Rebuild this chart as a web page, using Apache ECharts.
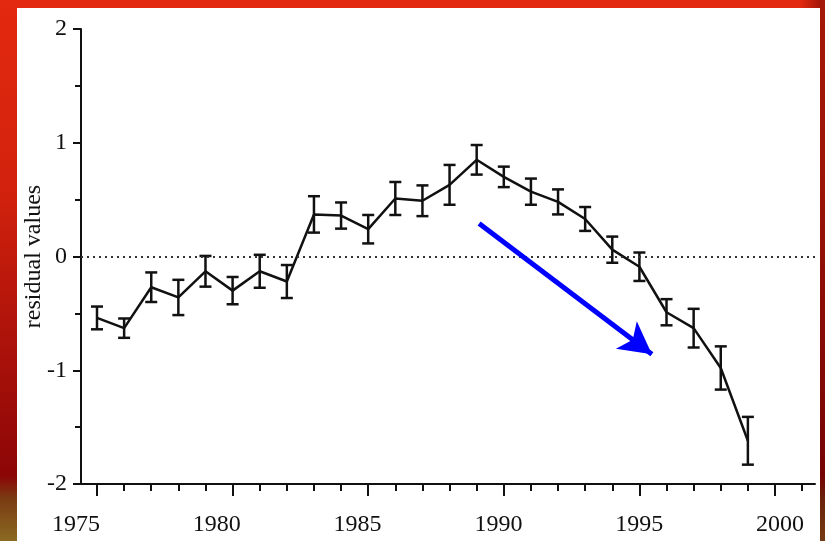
<!DOCTYPE html>
<html>
<head>
<meta charset="utf-8">
<script src="https://cdn.jsdelivr.net/npm/echarts@6/dist/echarts.min.js"></script>
<style>
  html, body { margin: 0; padding: 0; width: 825px; height: 541px; overflow: hidden; }
  body {
    background:
      linear-gradient(to right, rgba(90,0,0,0) 97%, rgba(90,0,0,0.45) 99.4%, rgba(90,0,0,0.45) 100%),
      linear-gradient(to bottom, #e3290f 0%, #d2220d 35%, #b0140a 60%, #8c0606 88%, #7a3a12 92%, #8a6a22 100%);
  }
  #paper { position: absolute; left: 17px; top: 8px; width: 803px; height: 533px; background: #ffffff; }
  #chart { position: absolute; left: 0; top: 0; width: 825px; height: 541px; }
</style>
</head>
<body>
<div id="paper"></div>
<div id="chart"></div>
<script>
// ---- data ----
const years = [1975, 1976, 1977, 1978, 1979, 1980, 1981, 1982, 1983, 1984, 1985, 1986, 1987,
               1988, 1989, 1990, 1991, 1992, 1993, 1994, 1995, 1996, 1997, 1998, 1999];
const residuals = [-0.54, -0.63, -0.27, -0.36, -0.13, -0.30, -0.13, -0.22, 0.37, 0.36, 0.24, 0.51, 0.49,
                   0.63, 0.85, 0.70, 0.57, 0.48, 0.33, 0.06, -0.09, -0.49, -0.63, -0.98, -1.62];
const errors = [0.10, 0.085, 0.13, 0.155, 0.135, 0.12, 0.145, 0.145, 0.16, 0.115, 0.125, 0.145, 0.135,
                0.175, 0.13, 0.09, 0.115, 0.11, 0.105, 0.115, 0.125, 0.115, 0.17, 0.19, 0.21];
const xTickLabels = [1975, 1980, 1985, 1990, 1995, 2000];
const yTickLabels = [-2, -1, 0, 1, 2];
const minorYears = [1975, 1976, 1977, 1978, 1979, 1980, 1981, 1982, 1983, 1984, 1985, 1986, 1987,
                    1988, 1989, 1990, 1991, 1992, 1993, 1994, 1995, 1996, 1997, 1998, 1999, 2000, 2001];
const yAxisTitle = 'residual values';
const trendArrow = [[1989.09, 0.29], [1995.46, -0.86]];

const FONT = 'Liberation Serif, Times New Roman, serif';
const INK = '#111111';

const chart = echarts.init(document.getElementById('chart'), null, { renderer: 'canvas' });

const lineData = years.map((y, i) => [y, residuals[i]]);
const errData = years.map((y, i) => [y, residuals[i], errors[i]]);

const option = {
  animation: false,
  backgroundColor: 'transparent',
  grid: [
    { left: 81, right: 10, top: 29, bottom: 57 },
    { left: 76, right: 45, top: 29, bottom: 57 }
  ],
  xAxis: [
    {
      type: 'value', gridIndex: 0, min: 1974.41, max: 2001.475, position: 'bottom',
      axisLine: { show: true, onZero: false, lineStyle: { color: INK, width: 2 } },
      axisTick: { show: true, length: 7, lineStyle: { color: INK, width: 2 }, customValues: minorYears },
      axisLabel: { show: false },
      splitLine: { show: false }
    },
    {
      type: 'value', gridIndex: 0, min: 1974.41, max: 2001.475, position: 'bottom',
      axisLine: { show: false, onZero: false },
      axisTick: { show: true, length: 12, lineStyle: { color: INK, width: 2 }, customValues: xTickLabels },
      axisLabel: { show: false },
      splitLine: { show: false }
    },
    {
      type: 'value', gridIndex: 1, min: 1975, max: 2000, interval: 5, position: 'bottom',
      axisLine: { show: false, onZero: false },
      axisTick: { show: false },
      axisLabel: { show: true, margin: 29, fontSize: 24, fontFamily: FONT, color: INK,
                   formatter: v => (xTickLabels.indexOf(v) >= 0 ? String(v) : '') },
      splitLine: { show: false }
    }
  ],
  yAxis: [
    {
      type: 'value', gridIndex: 0, min: -2, max: 2, interval: 1,
      name: yAxisTitle, nameLocation: 'middle', nameGap: 35, nameMoveOverlap: false,
      nameTextStyle: { fontSize: 24, fontFamily: FONT, color: INK },
      axisLine: { show: true, lineStyle: { color: INK, width: 2 } },
      axisTick: { show: true, length: 8, lineStyle: { color: INK, width: 2 } },
      minorTick: { show: true, splitNumber: 2, length: 6, lineStyle: { color: INK, width: 2 } },
      axisLabel: { margin: 14, fontSize: 24, fontFamily: FONT, color: INK,
                   formatter: v => (yTickLabels.indexOf(v) >= 0 ? String(v) : '') },
      splitLine: { show: false }
    },
    {
      type: 'value', gridIndex: 1, min: -2, max: 2, show: false
    }
  ],
  series: [
    {
      type: 'custom',
      xAxisIndex: 0, yAxisIndex: 0,
      data: errData,
      renderItem: function (params, api) {
        const x = api.value(0), v = api.value(1), e = api.value(2);
        const top = api.coord([x, v + e]);
        const bot = api.coord([x, v - e]);
        const hw = 6;
        const style = { stroke: INK, lineWidth: 2.5 };
        return {
          type: 'group',
          children: [
            { type: 'line', shape: { x1: top[0], y1: top[1], x2: bot[0], y2: bot[1] }, style: style },
            { type: 'line', shape: { x1: top[0] - hw, y1: top[1], x2: top[0] + hw, y2: top[1] }, style: style },
            { type: 'line', shape: { x1: bot[0] - hw, y1: bot[1], x2: bot[0] + hw, y2: bot[1] }, style: style }
          ]
        };
      },
      z: 3
    },
    {
      type: 'line',
      xAxisIndex: 0, yAxisIndex: 0,
      data: lineData,
      showSymbol: false,
      symbol: 'none',
      lineStyle: { color: INK, width: 2.5 },
      z: 4,
      markLine: {
        silent: true,
        symbol: ['none', 'none'],
        label: { show: false },
        data: [
          { yAxis: 0, lineStyle: { color: '#333333', width: 2, type: [2, 4] } },
          [
            { coord: trendArrow[0], symbol: 'none', lineStyle: { color: '#0000ff', width: 5, type: 'solid' } },
            { coord: trendArrow[1], symbol: 'arrow', symbolSize: [26, 32] }
          ]
        ]
      }
    }
  ]
};

chart.setOption(option);
</script>
</body>
</html>
